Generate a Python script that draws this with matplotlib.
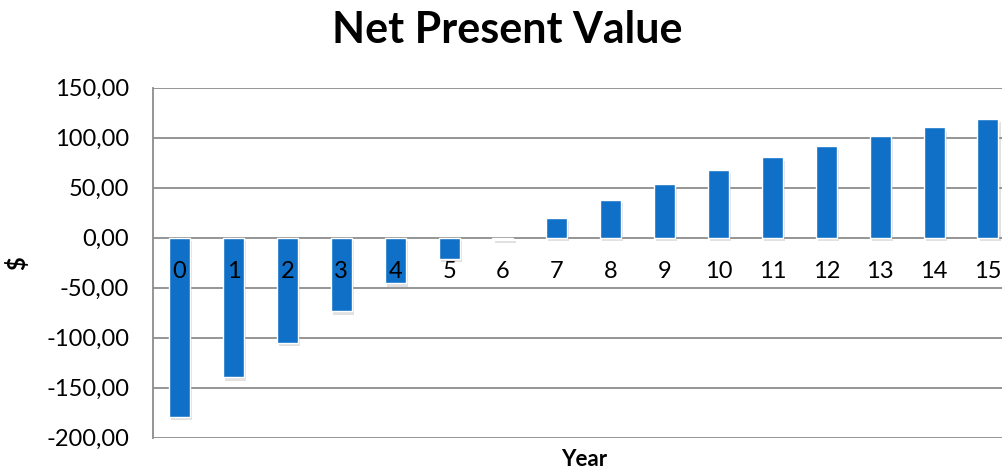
import matplotlib
matplotlib.use("Agg")
import matplotlib.pyplot as plt
import matplotlib.patheffects as pe
from matplotlib.ticker import FuncFormatter

# ---------------
# Data
# ---------------
years = list(range(16))
npv = [-179.0, -139.6, -105.0, -73.5, -45.6, -21.0, -1.5, 19.7, 37.7,
       53.4, 67.7, 80.4, 91.4, 101.7, 110.4, 118.7]
y_ticks = [-200, -150, -100, -50, 0, 50, 100, 150]

bar_color = "#1070C8"
grid_color = "#8c8c8c"

plt.rcParams["font.family"] = ["Lato", "DejaVu Sans"]

fig = plt.figure(figsize=(10.03, 4.74), dpi=100)
ax = fig.add_axes([0.1522, 0.0766, 0.8597, 0.7384])

bars = ax.bar(years, npv, width=0.39, color=bar_color, edgecolor="white",
              linewidth=1.0, zorder=3)
for b in bars:
    b.set_path_effects([pe.SimplePatchShadow(offset=(1.5, -2.5),
                                             shadow_rgbFace="#888888",
                                             alpha=0.25),
                        pe.Normal()])

ax.set_xlim(-0.5, 15.5)
ax.set_ylim(-200, 150)
ax.set_yticks(y_ticks)
ax.yaxis.set_major_formatter(
    FuncFormatter(lambda v, p: ("%.2f" % v).replace(".", ",")))
ax.grid(axis="y", color=grid_color, linewidth=1.3)
ax.set_axisbelow(True)

# category labels sit just under the zero line, on top of the bars
ax.spines["bottom"].set_position(("data", 0))
ax.spines["bottom"].set_visible(False)
ax.spines["top"].set_visible(False)
ax.spines["right"].set_visible(False)
ax.spines["left"].set_color(grid_color)
ax.spines["left"].set_linewidth(1.3)
ax.set_xticks(years)
ax.set_xticklabels([str(y) for y in years])
ax.xaxis.set_zorder(5)
ax.tick_params(axis="x", length=0, pad=17, labelsize=17)
ax.tick_params(axis="y", length=0, pad=17, labelsize=17)

fig.text(0.506, 0.937, "Net Present Value", fontsize=31, fontweight="bold",
         ha="center", va="center")
ax.set_ylabel("$", fontsize=17, fontweight="bold", labelpad=12)
fig.text(0.5825, 0.03, "Year", fontsize=16, fontweight="bold",
         ha="center", va="center")

fig.savefig("out.png", dpi=100)
